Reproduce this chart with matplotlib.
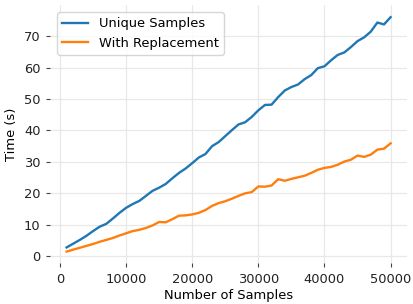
import numpy as np
import matplotlib
matplotlib.use("Agg")
import matplotlib.pyplot as plt

# sample sizes and timings (s)
n_samples = list(range(1000, 50001, 1000))
unique_times = [2.8, 4.0, 5.2, 6.5, 8.0, 9.4, 10.3, 12.0, 13.8, 15.4,
                16.6, 17.6, 19.2, 20.8, 21.8, 23.0, 24.8, 26.5, 27.9, 29.6,
                31.4, 32.5, 35.0, 36.3, 38.2, 40.1, 41.9, 42.6, 44.3, 46.4,
                48.1, 48.2, 50.6, 52.7, 53.8, 54.6, 56.3, 57.6, 59.8, 60.4,
                62.3, 64.0, 64.8, 66.5, 68.4, 69.6, 71.4, 74.3, 73.7, 76.0]
replace_times = [1.5, 2.1, 2.7, 3.3, 3.9, 4.6, 5.2, 5.8, 6.6, 7.3,
                 8.0, 8.4, 9.0, 9.8, 10.9, 10.8, 11.8, 12.9, 13.0, 13.3,
                 13.8, 14.7, 16.0, 16.9, 17.5, 18.3, 19.2, 20.0, 20.4, 22.2,
                 22.1, 22.5, 24.5, 24.0, 24.6, 25.1, 25.6, 26.5, 27.5, 28.1,
                 28.4, 29.1, 30.1, 30.7, 32.0, 31.6, 32.3, 33.9, 34.2, 35.9]

fs = 9.4
fig = plt.figure(figsize=(4.13, 3.04), dpi=100)
ax = fig.add_axes([0.122, 0.134, 0.863, 0.848])

ax.plot(n_samples, unique_times, color='#1f77b4', lw=1.7, label='Unique Samples')
ax.plot(n_samples, replace_times, color='#ff7f0e', lw=1.7, label='With Replacement')

# light grid, no spines
ax.grid(True, color='#e8e8e8', lw=0.9)
ax.set_axisbelow(True)
for s in ax.spines.values():
    s.set_visible(False)
ax.set_xticks([0, 10000, 20000, 30000, 40000, 50000])
ax.set_yticks(range(0, 71, 10))
ax.tick_params(length=3, width=0.8, pad=4, colors='#444444', labelcolor='#222222', labelsize=fs)

ax.set_xlabel('Number of Samples', fontsize=fs, labelpad=2)
ax.set_ylabel('Time (s)', fontsize=fs, labelpad=4)
ax.legend(loc='upper left', fontsize=fs)

fig.savefig('out.png', dpi=100)
